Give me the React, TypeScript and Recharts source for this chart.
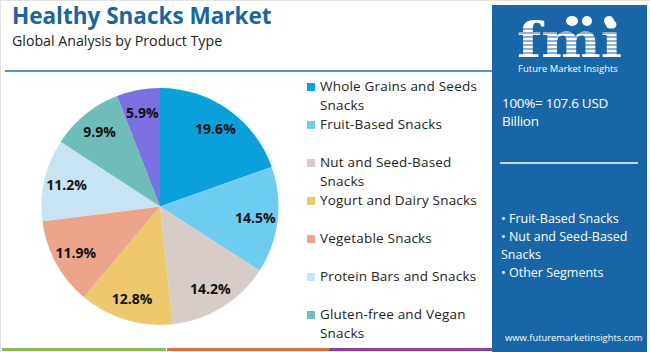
import React from 'react';
import { PieChart, Pie, Cell, Legend } from 'recharts';

const categories = [
  'Whole Grains and Seeds Snacks',
  'Fruit-Based Snacks',
  'Nut and Seed-Based Snacks',
  'Yogurt and Dairy Snacks',
  'Vegetable Snacks',
  'Protein Bars and Snacks',
  'Gluten-free and Vegan Snacks',
  'Others',
];
const shares = [19.6, 14.5, 14.2, 12.8, 11.9, 11.2, 9.9, 5.9];
const colors = ['#0aa0d9', '#6dcdf0', '#d7ccc8', '#edc86c', '#eca58b', '#c6e4f4', '#6fbdb9', '#7b70e2'];
const legendCount = 7;

const title = 'Healthy Snacks Market';
const subtitle = 'Global Analysis by Product Type';
const totalText = '100%= 107.6 USD Billion';
const highlights = ['Fruit-Based Snacks', 'Nut and Seed-Based Snacks', 'Other Segments'];
const website = 'www.futuremarketinsights.com';

const data = categories.map((name, i) => ({ name, value: shares[i] }));

const FONT = "'Open Sans', 'Noto Sans', sans-serif";
const RADIAN = Math.PI / 180;

const renderLabel = (props: any) => {
  const { cx, cy, midAngle, outerRadius, value } = props;
  const r = outerRadius * 0.81;
  const x = cx + r * Math.cos(-midAngle * RADIAN);
  const y = cy + r * Math.sin(-midAngle * RADIAN);
  return (
    <text
      x={x}
      y={y}
      textAnchor="middle"
      dominantBaseline="central"
      fill="#111"
      fontFamily={FONT}
      fontWeight={700}
      fontSize={14}
    >
      {value.toFixed(1)}%
    </text>
  );
};

const renderLegend = () => (
  <div style={{ fontFamily: FONT, fontSize: 13.5, letterSpacing: 0.2, color: '#222', lineHeight: '19px' }}>
    {categories.slice(0, legendCount).map((c, i) => (
      <div key={c} style={{ display: 'flex', height: 38, alignItems: 'flex-start' }}>
        <div style={{ width: 8, height: 8, background: colors[i], marginTop: 6, flex: '0 0 8px' }} />
        <div style={{ marginLeft: 5, width: 168 }}>{c}</div>
      </div>
    ))}
  </div>
);

const Logo = () => (
  <svg width={156} height={72} style={{ position: 'absolute', left: 0, top: 0 }}>
    <g transform="translate(25 52) scale(1 1.35)">
      <text
        x={0}
        y={0}
        fontFamily="'DejaVu Serif', serif"
        fontWeight={700}
        fontSize={36}
        fill="#fff"
        textLength={105}
        lengthAdjust="spacingAndGlyphs"
      >
        fmi
      </text>
    </g>
    {[24, 28, 32, 36, 40, 44, 48].map((y) => (
      <line key={y} x1={20} x2={135} y1={y} y2={y} stroke="#1866a8" strokeWidth={1.2} />
    ))}
    <ellipse cx={80} cy={16} rx={6} ry={5} fill="#fff" />
    <circle cx={95} cy={16} r={5} fill="#fff" />
    <circle cx={117} cy={16} r={5} fill="#fff" />
    <text x={76} y={67} textAnchor="middle" fontFamily={FONT} fontSize={9.5} fill="#fff">
      Future Market Insights
    </text>
  </svg>
);

export default function App() {
  return (
    <div
      style={{
        position: 'absolute',
        left: 0,
        top: 0,
        width: 650,
        height: 352,
        background: '#fff',
        overflow: 'hidden',
        fontFamily: FONT,
      }}
    >
      <div style={{ position: 'absolute', left: 0, top: 0, width: 649, height: 351, border: '1px solid #e2e2e2', borderRight: 'none', borderBottom: 'none' }} />
      <div
        style={{
          position: 'absolute',
          left: 12,
          top: 3,
          fontSize: 22.5,
          lineHeight: '26px',
          fontWeight: 700,
          color: '#1765a3',
          whiteSpace: 'nowrap',
        }}
      >
        {title}
      </div>
      <div style={{ position: 'absolute', left: 12, top: 31, fontSize: 14.2, color: '#222', whiteSpace: 'nowrap' }}>
        {subtitle}
      </div>
      <div style={{ position: 'absolute', left: 5, top: 70, width: 487, height: 1.5, background: '#5e92c6' }} />

      <div style={{ position: 'absolute', left: 0, top: 0 }}>
        <PieChart width={650} height={352} margin={{ top: 0, right: 0, bottom: 0, left: 0 }}>
          <Pie
            data={data}
            dataKey="value"
            nameKey="name"
            cx={160}
            cy={206.5}
            outerRadius={118.5}
            startAngle={90}
            endAngle={-270}
            stroke="none"
            label={renderLabel}
            labelLine={false}
            isAnimationActive={false}
          >
            {data.map((d, i) => (
              <Cell key={d.name} fill={colors[i]} />
            ))}
          </Pie>
          <Legend
            content={renderLegend}
            wrapperStyle={{ position: 'absolute', left: 307, top: 77, width: 182, height: 270 }}
          />
        </PieChart>
      </div>

      <div style={{ position: 'absolute', left: 2, top: 348, width: 164, height: 3, background: '#86bd4e' }} />
      <div style={{ position: 'absolute', left: 167, top: 348, width: 162, height: 3, background: '#e0713c' }} />
      <div style={{ position: 'absolute', left: 329, top: 348, width: 163, height: 3, background: '#8e3b99' }} />

      <div
        style={{
          position: 'absolute',
          left: 492,
          top: 5,
          width: 155,
          height: 347,
          background: '#1866a8',
          color: '#fff',
        }}
      >
        <Logo />
        <div
          style={{
            position: 'absolute',
            left: 10,
            top: 89,
            width: 135,
            fontSize: 13.5,
            letterSpacing: -0.3,
            lineHeight: '18.4px',
          }}
        >
          {totalText}
        </div>
        <div style={{ position: 'absolute', left: 8, top: 157, width: 138, height: 1.5, background: '#c6d8ec' }} />
        <div style={{ position: 'absolute', left: 9, top: 205, width: 140, fontSize: 12.5, lineHeight: '18px' }}>
          {highlights.map((h) => (
            <div key={h}>• {h}</div>
          ))}
        </div>
        <div style={{ position: 'absolute', left: 13, top: 326, width: 140, fontSize: 9.4, whiteSpace: 'nowrap' }}>
          {website}
        </div>
      </div>
    </div>
  );
}
